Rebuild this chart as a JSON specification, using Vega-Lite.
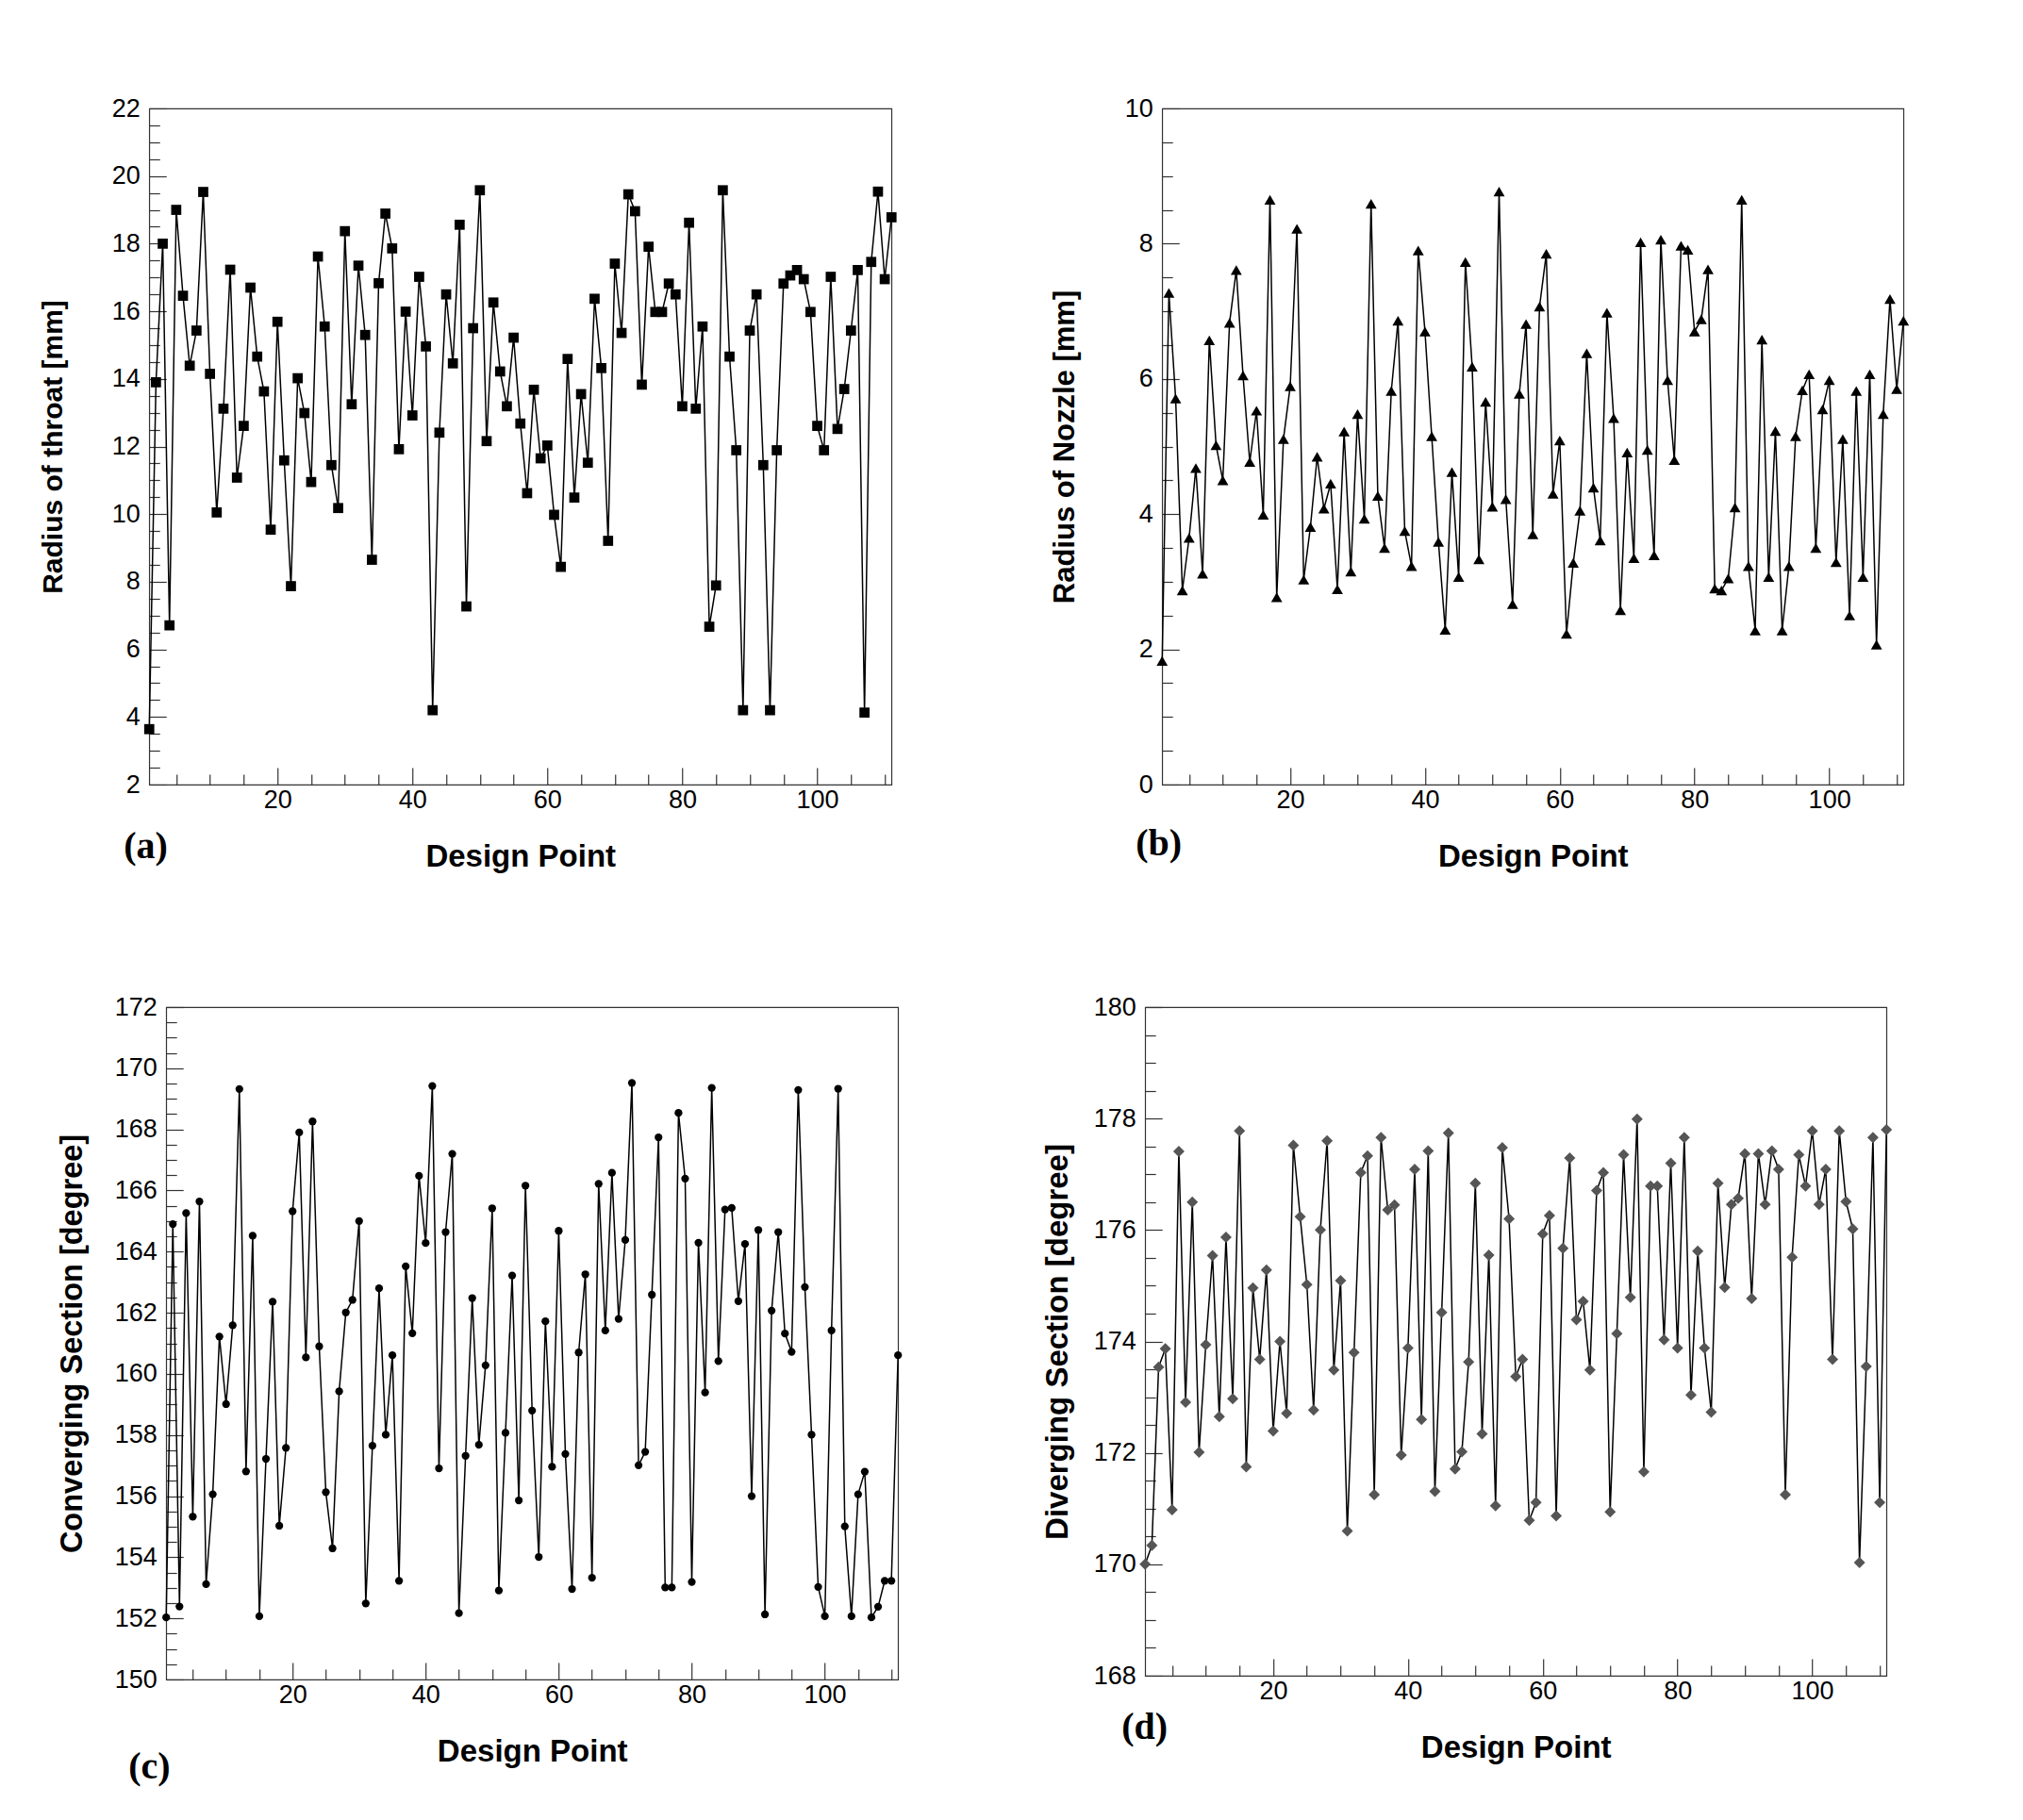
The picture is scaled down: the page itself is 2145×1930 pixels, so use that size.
{
  "$schema": "https://vega.github.io/schema/vega-lite/v6.json",
  "background": "white",
  "padding": {"left": 40, "top": 100, "right": 5, "bottom": 5},
  "config": {
    "view": {"stroke": "#333333", "strokeWidth": 1.2},
    "axis": {
      "labelFont": "Liberation Sans", "labelFontSize": 27, "labelColor": "black",
      "titleFont": "Liberation Sans", "titleFontWeight": "bold", "titleColor": "black",
      "grid": false, "domain": false, "tickColor": "#333333", "tickWidth": 1.2,
      "labelOverlap": false, "labelFlush": false, "format": ".0f"
    },
    "axisX": {"titleFontSize": 33, "titlePadding": 24, "labelPadding": 21},
    "axisY": {"labelPadding": 28},
    "title": {"font": "Liberation Serif", "fontSize": 40, "fontWeight": "bold", "color": "black", "orient": "bottom", "anchor": "start", "frame": "group"}
  },
  "datasets": {
    "a": [{"x":1,"y":3.64},{"x":2,"y":13.9},{"x":3,"y":18.0},{"x":4,"y":6.71},{"x":5,"y":19.0},{"x":6,"y":16.46},{"x":7,"y":14.39},{"x":8,"y":15.43},{"x":9,"y":19.53},{"x":10,"y":14.15},{"x":11,"y":10.05},{"x":12,"y":13.12},{"x":13,"y":17.23},{"x":14,"y":11.08},{"x":15,"y":12.61},{"x":16,"y":16.7},{"x":17,"y":14.66},{"x":18,"y":13.63},{"x":19,"y":9.54},{"x":20,"y":15.69},{"x":21,"y":11.59},{"x":22,"y":7.87},{"x":23,"y":14.02},{"x":24,"y":12.99},{"x":25,"y":10.95},{"x":26,"y":17.62},{"x":27,"y":15.55},{"x":28,"y":11.45},{"x":29,"y":10.18},{"x":30,"y":18.37},{"x":31,"y":13.25},{"x":32,"y":17.35},{"x":33,"y":15.3},{"x":34,"y":8.65},{"x":35,"y":16.83},{"x":36,"y":18.89},{"x":37,"y":17.86},{"x":38,"y":11.92},{"x":39,"y":15.99},{"x":40,"y":12.92},{"x":41,"y":17.02},{"x":42,"y":14.96},{"x":43,"y":4.2},{"x":44,"y":12.41},{"x":45,"y":16.5},{"x":46,"y":14.46},{"x":47,"y":18.56},{"x":48,"y":7.27},{"x":49,"y":15.5},{"x":50,"y":19.58},{"x":51,"y":12.16},{"x":52,"y":16.26},{"x":53,"y":14.22},{"x":54,"y":13.19},{"x":55,"y":15.22},{"x":56,"y":12.68},{"x":57,"y":10.62},{"x":58,"y":13.68},{"x":59,"y":11.65},{"x":60,"y":12.03},{"x":61,"y":9.98},{"x":62,"y":8.44},{"x":63,"y":14.59},{"x":64,"y":10.49},{"x":65,"y":13.55},{"x":66,"y":11.52},{"x":67,"y":16.37},{"x":68,"y":14.32},{"x":69,"y":9.21},{"x":70,"y":17.41},{"x":71,"y":15.36},{"x":72,"y":19.46},{"x":73,"y":18.96},{"x":74,"y":13.83},{"x":75,"y":17.91},{"x":76,"y":15.98},{"x":77,"y":15.98},{"x":78,"y":16.82},{"x":79,"y":16.5},{"x":80,"y":13.19},{"x":81,"y":18.62},{"x":82,"y":13.12},{"x":83,"y":15.55},{"x":84,"y":6.67},{"x":85,"y":7.89},{"x":86,"y":19.58},{"x":87,"y":14.66},{"x":88,"y":11.89},{"x":89,"y":4.2},{"x":90,"y":15.43},{"x":91,"y":16.5},{"x":92,"y":11.45},{"x":93,"y":4.2},{"x":94,"y":11.89},{"x":95,"y":16.82},{"x":96,"y":17.06},{"x":97,"y":17.22},{"x":98,"y":16.95},{"x":99,"y":15.98},{"x":100,"y":12.61},{"x":101,"y":11.89},{"x":102,"y":17.02},{"x":103,"y":12.52},{"x":104,"y":13.7},{"x":105,"y":15.43},{"x":106,"y":17.22},{"x":107,"y":4.13},{"x":108,"y":17.46},{"x":109,"y":19.54},{"x":110,"y":16.95},{"x":111,"y":18.78}],
    "b": [{"x":1,"y":1.83},{"x":2,"y":7.27},{"x":3,"y":5.71},{"x":4,"y":2.87},{"x":5,"y":3.65},{"x":6,"y":4.68},{"x":7,"y":3.12},{"x":8,"y":6.57},{"x":9,"y":5.02},{"x":10,"y":4.5},{"x":11,"y":6.83},{"x":12,"y":7.61},{"x":13,"y":6.05},{"x":14,"y":4.77},{"x":15,"y":5.53},{"x":16,"y":3.99},{"x":17,"y":8.65},{"x":18,"y":2.77},{"x":19,"y":5.11},{"x":20,"y":5.89},{"x":21,"y":8.22},{"x":22,"y":3.03},{"x":23,"y":3.81},{"x":24,"y":4.85},{"x":25,"y":4.08},{"x":26,"y":4.45},{"x":27,"y":2.89},{"x":28,"y":5.22},{"x":29,"y":3.15},{"x":30,"y":5.48},{"x":31,"y":3.93},{"x":32,"y":8.59},{"x":33,"y":4.27},{"x":34,"y":3.5},{"x":35,"y":5.82},{"x":36,"y":6.86},{"x":37,"y":3.75},{"x":38,"y":3.23},{"x":39,"y":7.9},{"x":40,"y":6.7},{"x":41,"y":5.15},{"x":42,"y":3.59},{"x":43,"y":2.29},{"x":44,"y":4.62},{"x":45,"y":3.07},{"x":46,"y":7.73},{"x":47,"y":6.18},{"x":48,"y":3.33},{"x":49,"y":5.66},{"x":50,"y":4.11},{"x":51,"y":8.77},{"x":52,"y":4.22},{"x":53,"y":2.67},{"x":54,"y":5.78},{"x":55,"y":6.81},{"x":56,"y":3.7},{"x":57,"y":7.07},{"x":58,"y":7.85},{"x":59,"y":4.3},{"x":60,"y":5.09},{"x":61,"y":2.23},{"x":62,"y":3.28},{"x":63,"y":4.05},{"x":64,"y":6.38},{"x":65,"y":4.39},{"x":66,"y":3.61},{"x":67,"y":6.98},{"x":68,"y":5.42},{"x":69,"y":2.58},{"x":70,"y":4.91},{"x":71,"y":3.35},{"x":72,"y":8.02},{"x":73,"y":4.95},{"x":74,"y":3.39},{"x":75,"y":8.06},{"x":76,"y":5.98},{"x":77,"y":4.8},{"x":78,"y":7.97},{"x":79,"y":7.91},{"x":80,"y":6.7},{"x":81,"y":6.88},{"x":82,"y":7.62},{"x":83,"y":2.9},{"x":84,"y":2.87},{"x":85,"y":3.05},{"x":86,"y":4.1},{"x":87,"y":8.65},{"x":88,"y":3.23},{"x":89,"y":2.28},{"x":90,"y":6.58},{"x":91,"y":3.07},{"x":92,"y":5.23},{"x":93,"y":2.28},{"x":94,"y":3.23},{"x":95,"y":5.15},{"x":96,"y":5.83},{"x":97,"y":6.07},{"x":98,"y":3.5},{"x":99,"y":5.55},{"x":100,"y":5.98},{"x":101,"y":3.29},{"x":102,"y":5.11},{"x":103,"y":2.5},{"x":104,"y":5.82},{"x":105,"y":3.07},{"x":106,"y":6.07},{"x":107,"y":2.07},{"x":108,"y":5.48},{"x":109,"y":7.18},{"x":110,"y":5.85},{"x":111,"y":6.86}],
    "c": [{"x":1,"y":152.03},{"x":2,"y":164.9},{"x":3,"y":152.39},{"x":4,"y":165.26},{"x":5,"y":155.33},{"x":6,"y":165.64},{"x":7,"y":153.12},{"x":8,"y":156.06},{"x":9,"y":161.22},{"x":10,"y":159.01},{"x":11,"y":161.59},{"x":12,"y":169.32},{"x":13,"y":156.81},{"x":14,"y":164.52},{"x":15,"y":152.07},{"x":16,"y":157.22},{"x":17,"y":162.36},{"x":18,"y":155.03},{"x":19,"y":157.58},{"x":20,"y":165.32},{"x":21,"y":167.9},{"x":22,"y":160.54},{"x":23,"y":168.26},{"x":24,"y":160.9},{"x":25,"y":156.13},{"x":26,"y":154.29},{"x":27,"y":159.43},{"x":28,"y":162.01},{"x":29,"y":162.42},{"x":30,"y":165.0},{"x":31,"y":152.49},{"x":32,"y":157.65},{"x":33,"y":162.8},{"x":34,"y":158.01},{"x":35,"y":160.61},{"x":36,"y":153.23},{"x":37,"y":163.52},{"x":38,"y":161.33},{"x":39,"y":166.48},{"x":40,"y":164.28},{"x":41,"y":169.42},{"x":42,"y":156.91},{"x":43,"y":164.64},{"x":44,"y":167.2},{"x":45,"y":152.17},{"x":46,"y":157.32},{"x":47,"y":162.48},{"x":48,"y":157.68},{"x":49,"y":160.28},{"x":50,"y":165.42},{"x":51,"y":152.91},{"x":52,"y":158.07},{"x":53,"y":163.22},{"x":54,"y":155.86},{"x":55,"y":166.16},{"x":56,"y":158.8},{"x":57,"y":154.01},{"x":58,"y":161.72},{"x":59,"y":156.96},{"x":60,"y":164.68},{"x":61,"y":157.38},{"x":62,"y":152.96},{"x":63,"y":160.7},{"x":64,"y":163.26},{"x":65,"y":153.33},{"x":66,"y":166.22},{"x":67,"y":161.42},{"x":68,"y":166.58},{"x":69,"y":161.8},{"x":70,"y":164.38},{"x":71,"y":169.52},{"x":72,"y":157.01},{"x":73,"y":157.45},{"x":74,"y":162.59},{"x":75,"y":167.74},{"x":76,"y":153.01},{"x":77,"y":153.01},{"x":78,"y":168.54},{"x":79,"y":166.39},{"x":80,"y":153.19},{"x":81,"y":164.29},{"x":82,"y":159.39},{"x":83,"y":169.36},{"x":84,"y":160.42},{"x":85,"y":165.38},{"x":86,"y":165.43},{"x":87,"y":162.38},{"x":88,"y":164.25},{"x":89,"y":156.0},{"x":90,"y":164.71},{"x":91,"y":152.13},{"x":92,"y":162.07},{"x":93,"y":164.64},{"x":94,"y":161.32},{"x":95,"y":160.72},{"x":96,"y":169.29},{"x":97,"y":162.84},{"x":98,"y":158.01},{"x":99,"y":153.03},{"x":100,"y":152.07},{"x":101,"y":161.42},{"x":102,"y":169.33},{"x":103,"y":155.01},{"x":104,"y":152.07},{"x":105,"y":156.06},{"x":106,"y":156.8},{"x":107,"y":152.03},{"x":108,"y":152.38},{"x":109,"y":153.23},{"x":110,"y":153.23},{"x":111,"y":160.61}],
    "d": [{"x":1,"y":170.0},{"x":2,"y":170.34},{"x":3,"y":173.54},{"x":4,"y":173.87},{"x":5,"y":170.98},{"x":6,"y":177.41},{"x":7,"y":172.91},{"x":8,"y":176.5},{"x":9,"y":172.01},{"x":10,"y":173.94},{"x":11,"y":175.54},{"x":12,"y":172.65},{"x":13,"y":175.87},{"x":14,"y":172.97},{"x":15,"y":177.78},{"x":16,"y":171.75},{"x":17,"y":174.96},{"x":18,"y":173.68},{"x":19,"y":175.28},{"x":20,"y":172.39},{"x":21,"y":174.0},{"x":22,"y":172.71},{"x":23,"y":177.52},{"x":24,"y":176.24},{"x":25,"y":175.02},{"x":26,"y":172.77},{"x":27,"y":176.0},{"x":28,"y":177.6},{"x":29,"y":173.49},{"x":30,"y":175.09},{"x":31,"y":170.6},{"x":32,"y":173.8},{"x":33,"y":177.03},{"x":34,"y":177.33},{"x":35,"y":171.25},{"x":36,"y":177.66},{"x":37,"y":176.36},{"x":38,"y":176.45},{"x":39,"y":171.96},{"x":40,"y":173.88},{"x":41,"y":177.09},{"x":42,"y":172.6},{"x":43,"y":177.42},{"x":44,"y":171.31},{"x":45,"y":174.52},{"x":46,"y":177.74},{"x":47,"y":171.71},{"x":48,"y":172.02},{"x":49,"y":173.63},{"x":50,"y":176.84},{"x":51,"y":172.34},{"x":52,"y":175.55},{"x":53,"y":171.05},{"x":54,"y":177.48},{"x":55,"y":176.2},{"x":56,"y":173.37},{"x":57,"y":173.68},{"x":58,"y":170.79},{"x":59,"y":171.11},{"x":60,"y":175.93},{"x":61,"y":176.26},{"x":62,"y":170.87},{"x":63,"y":175.67},{"x":64,"y":177.29},{"x":65,"y":174.39},{"x":66,"y":174.72},{"x":67,"y":173.49},{"x":68,"y":176.71},{"x":69,"y":177.03},{"x":70,"y":170.94},{"x":71,"y":174.14},{"x":72,"y":177.35},{"x":73,"y":174.79},{"x":74,"y":177.99},{"x":75,"y":171.66},{"x":76,"y":176.79},{"x":77,"y":176.79},{"x":78,"y":174.03},{"x":79,"y":177.2},{"x":80,"y":173.88},{"x":81,"y":177.66},{"x":82,"y":173.04},{"x":83,"y":175.62},{"x":84,"y":173.88},{"x":85,"y":172.73},{"x":86,"y":176.84},{"x":87,"y":174.97},{"x":88,"y":176.46},{"x":89,"y":176.57},{"x":90,"y":177.37},{"x":91,"y":174.77},{"x":92,"y":177.37},{"x":93,"y":176.46},{"x":94,"y":177.42},{"x":95,"y":177.09},{"x":96,"y":171.25},{"x":97,"y":175.51},{"x":98,"y":177.35},{"x":99,"y":176.79},{"x":100,"y":177.78},{"x":101,"y":176.46},{"x":102,"y":177.09},{"x":103,"y":173.68},{"x":104,"y":177.78},{"x":105,"y":176.51},{"x":106,"y":176.02},{"x":107,"y":170.03},{"x":108,"y":173.55},{"x":109,"y":177.66},{"x":110,"y":171.11},{"x":111,"y":177.8}]
  },
  "spacing": 127,
  "center": true,
  "vconcat": [
    {
      "spacing": 161,
      "hconcat": [
        {
          "width": 787, "height": 717,
          "title": {"text": "(a)", "offset": -47, "dx": -27},
          "data": {"name": "a"},
          "encoding": {
            "x": {"field": "x", "type": "quantitative", "scale": {"domain": [1, 111], "nice": false, "zero": false},
              "axis": {"title": "Design Point", "values": [5,10,15,20,25,30,35,40,45,50,55,60,65,70,75,80,85,90,95,100,105,110],
                "labelExpr": "datum.value % 20 === 0 ? datum.label : ''",
                "tickSize": {"condition": {"test": "datum.value % 20 === 0", "value": -18}, "value": -11}}},
            "y": {"field": "y", "type": "quantitative", "scale": {"domain": [2, 22], "nice": false, "zero": false},
              "axis": {"title": "Radius of throat [mm]", "titlePadding": 47, "titleFontSize": 30,
                "values": [2,2.5,3,3.5,4,4.5,5,5.5,6,6.5,7,7.5,8,8.5,9,9.5,10,10.5,11,11.5,12,12.5,13,13.5,14,14.5,15,15.5,16,16.5,17,17.5,18,18.5,19,19.5,20,20.5,21,21.5,22],
                "labelExpr": "datum.value % 2 === 0 ? datum.label : ''",
                "tickSize": {"condition": {"test": "datum.value % 2 === 0", "value": -18}, "value": -11}}}
          },
          "layer": [
            {"mark": {"type": "line", "color": "black", "strokeWidth": 1.5}},
            {"mark": {"type": "point", "shape": "square", "filled": true, "size": 115, "color": "black", "opacity": 1}}
          ]
        },
        {
          "width": 786, "height": 717,
          "title": {"text": "(b)", "offset": -50, "dx": -28},
          "data": {"name": "b"},
          "encoding": {
            "x": {"field": "x", "type": "quantitative", "scale": {"domain": [1, 111], "nice": false, "zero": false},
              "axis": {"title": "Design Point", "values": [5,10,15,20,25,30,35,40,45,50,55,60,65,70,75,80,85,90,95,100,105,110],
                "labelExpr": "datum.value % 20 === 0 ? datum.label : ''",
                "tickSize": {"condition": {"test": "datum.value % 20 === 0", "value": -18}, "value": -11}}},
            "y": {"field": "y", "type": "quantitative", "scale": {"domain": [0, 10], "nice": false, "zero": false},
              "axis": {"title": "Radius of Nozzle [mm]", "titlePadding": 47, "titleFontSize": 31,
                "values": [0,0.5,1,1.5,2,2.5,3,3.5,4,4.5,5,5.5,6,6.5,7,7.5,8,8.5,9,9.5,10],
                "labelExpr": "datum.value % 2 === 0 ? datum.label : ''",
                "tickSize": {"condition": {"test": "datum.value % 2 === 0", "value": -18}, "value": -11}}}
          },
          "layer": [
            {"mark": {"type": "line", "color": "black", "strokeWidth": 1.5}},
            {"mark": {"type": "point", "shape": "triangle-up", "filled": true, "size": 140, "color": "black", "opacity": 1}}
          ]
        }
      ]
    },
    {
      "spacing": 147,
      "hconcat": [
        {
          "width": 776, "height": 713,
          "title": {"text": "(c)", "offset": -20, "dx": -40},
          "data": {"name": "c"},
          "encoding": {
            "x": {"field": "x", "type": "quantitative", "scale": {"domain": [1, 111], "nice": false, "zero": false},
              "axis": {"title": "Design Point", "values": [5,10,15,20,25,30,35,40,45,50,55,60,65,70,75,80,85,90,95,100,105,110],
                "labelExpr": "datum.value % 20 === 0 ? datum.label : ''",
                "tickSize": {"condition": {"test": "datum.value % 20 === 0", "value": -18}, "value": -11}}},
            "y": {"field": "y", "type": "quantitative", "scale": {"domain": [150, 172], "nice": false, "zero": false},
              "axis": {"title": "Converging Section [degree]", "titlePadding": 28, "titleFontSize": 32.5,
                "values": [150,150.5,151,151.5,152,152.5,153,153.5,154,154.5,155,155.5,156,156.5,157,157.5,158,158.5,159,159.5,160,160.5,161,161.5,162,162.5,163,163.5,164,164.5,165,165.5,166,166.5,167,167.5,168,168.5,169,169.5,170,170.5,171,171.5,172],
                "labelExpr": "datum.value % 2 === 0 ? datum.label : ''",
                "tickSize": {"condition": {"test": "datum.value % 2 === 0", "value": -18}, "value": -11}}}
          },
          "layer": [
            {"mark": {"type": "line", "color": "black", "strokeWidth": 1.5}},
            {"mark": {"type": "point", "shape": "circle", "filled": true, "size": 68, "color": "black", "opacity": 1}}
          ]
        },
        {
          "width": 786, "height": 709,
          "title": {"text": "(d)", "offset": -58, "dx": -25},
          "data": {"name": "d"},
          "encoding": {
            "x": {"field": "x", "type": "quantitative", "scale": {"domain": [1, 111], "nice": false, "zero": false},
              "axis": {"title": "Design Point", "values": [5,10,15,20,25,30,35,40,45,50,55,60,65,70,75,80,85,90,95,100,105,110],
                "labelExpr": "datum.value % 20 === 0 ? datum.label : ''",
                "tickSize": {"condition": {"test": "datum.value % 20 === 0", "value": -18}, "value": -11}}},
            "y": {"field": "y", "type": "quantitative", "scale": {"domain": [168, 180], "nice": false, "zero": false},
              "axis": {"title": "Diverging Section [degree]", "titlePadding": 21, "titleFontSize": 33,
                "values": [168,168.5,169,169.5,170,170.5,171,171.5,172,172.5,173,173.5,174,174.5,175,175.5,176,176.5,177,177.5,178,178.5,179,179.5,180],
                "labelExpr": "datum.value % 2 === 0 ? datum.label : ''",
                "tickSize": {"condition": {"test": "datum.value % 2 === 0", "value": -18}, "value": -11}}}
          },
          "layer": [
            {"mark": {"type": "line", "color": "black", "strokeWidth": 1.5}},
            {"mark": {"type": "point", "shape": "diamond", "filled": true, "size": 144, "color": "#555555", "opacity": 1}}
          ]
        }
      ]
    }
  ]
}
